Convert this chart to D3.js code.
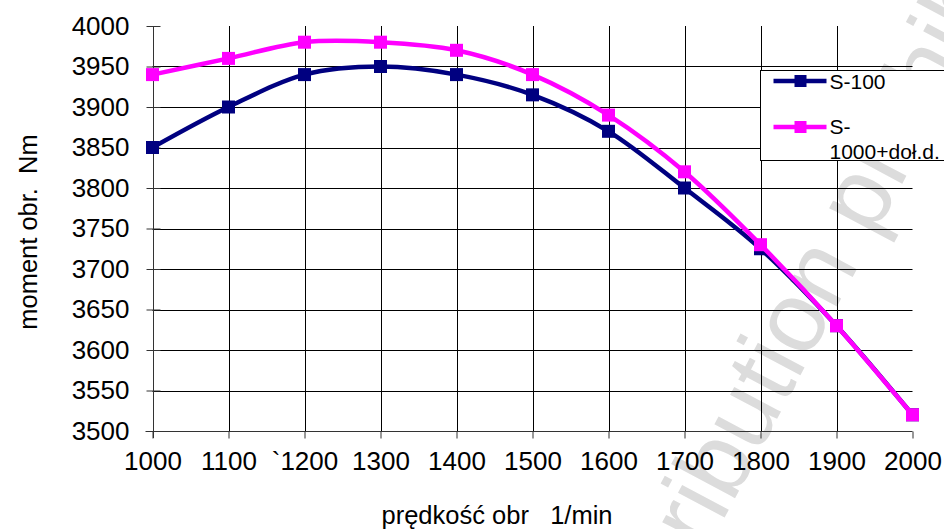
<!DOCTYPE html>
<html>
<head>
<meta charset="utf-8">
<script src="https://cdn.jsdelivr.net/npm/d3@7"></script>
<style>
  html, body { margin: 0; padding: 0; background: #fff; }
  svg { display: block; font-family: "Liberation Sans", Arial, sans-serif; }
</style>
</head>
<body>
<div id="chart"></div>
<script>
// dane
const speeds = [1000, 1100, 1200, 1300, 1400, 1500, 1600, 1700, 1800, 1900, 2000];
const xTickLabels = ['1000', '1100', '`1200', '1300', '1400', '1500', '1600', '1700', '1800', '1900', '2000'];
const torqueS100 = [3850, 3900, 3940, 3950, 3940, 3915, 3870, 3800, 3725, 3630, 3520];
const torqueS1000 = [3940, 3960, 3980, 3980, 3970, 3940, 3890, 3820, 3730, 3630, 3520];
const yTicks = [3500, 3550, 3600, 3650, 3700, 3750, 3800, 3850, 3900, 3950, 4000];

const series = [
    { name: 'S-100', values: torqueS100, color: '#000080' },
    { name: 'S-1000+doł.d.', values: torqueS1000, color: '#ff00ff' }
];

const width = 944;
const height = 529;
const tickFont = 26;

const svg = d3.select('#chart')
    .append('svg')
    .attr('width', width)
    .attr('height', height);

// znak wodny w tle
svg.append('text')
    .attr('transform', 'translate(625,705) rotate(-62)')
    .attr('font-size', 100)
    .attr('fill', '#dcdcdc')
    .text('Distribution prohibited');

const x = d3.scaleLinear().domain([1000, 2000]).range([152.5, 912.5]);
const y = d3.scaleLinear().domain([3500, 4000]).range([431, 26]);

// siatka pozioma
svg.append('g')
    .selectAll('line')
    .data(yTicks.filter(v => v > 3500 && v < 4000))
    .enter()
    .append('line')
    .attr('x1', x(1000)).attr('x2', x(2000))
    .attr('y1', d => Math.round(y(d)) + 0.5)
    .attr('y2', d => Math.round(y(d)) + 0.5)
    .attr('stroke', '#000')
    .attr('stroke-width', 1);

// siatka pionowa
svg.append('g')
    .selectAll('line')
    .data(speeds.filter(v => v > 1000 && v < 2000))
    .enter()
    .append('line')
    .attr('x1', d => Math.round(x(d)) + 0.5)
    .attr('x2', d => Math.round(x(d)) + 0.5)
    .attr('y1', y(4000)).attr('y2', y(3500))
    .attr('stroke', '#000')
    .attr('stroke-width', 1);

// oś Y
const yAxis = d3.axisLeft(y)
    .tickValues(yTicks)
    .tickSize(7)
    .tickPadding(17)
    .tickFormat(d3.format('d'));

const gy = svg.append('g')
    .attr('transform', `translate(${Math.round(x(1000)) + 0.5},0)`)
    .call(yAxis);
gy.select('.domain').attr('stroke', '#333').attr('d', `M0,${y(4000)}V${y(3500) + 7}`);
gy.selectAll('.tick line').attr('x2', -7).attr('x1', 7).attr('stroke', '#333');
gy.selectAll('.tick text')
    .attr('font-size', tickFont)
    .attr('font-family', '"Liberation Sans", Arial, sans-serif')
    .attr('fill', '#000');

// oś X
const xAxis = d3.axisBottom(x)
    .tickValues(speeds)
    .tickSize(7)
    .tickPadding(13)
    .tickFormat((d, i) => xTickLabels[i]);

const gx = svg.append('g')
    .attr('transform', `translate(0,${Math.round(y(3500)) + 0.5})`)
    .call(xAxis);
gx.select('.domain').attr('stroke', '#333').attr('d', `M${x(1000) - 7},0H${x(2000)}`);
gx.selectAll('.tick line').attr('stroke', '#333');
gx.selectAll('.tick text')
    .attr('font-size', tickFont)
    .attr('font-family', '"Liberation Sans", Arial, sans-serif')
    .attr('fill', '#000');

// tytuły osi
svg.append('text')
    .attr('x', 497)
    .attr('y', 524)
    .attr('text-anchor', 'middle')
    .attr('font-size', 25.5)
    .style('white-space', 'pre')
    .text('prędkość obr   1/min');

svg.append('text')
    .attr('transform', 'translate(37,232) rotate(-90)')
    .attr('text-anchor', 'middle')
    .attr('font-size', 25.5)
    .style('white-space', 'pre')
    .text('moment obr.  Nm');

// linie serii
const line = d3.line()
    .x((d, i) => x(speeds[i]))
    .y(d => y(d))
    .curve(d3.curveCatmullRom.alpha(0));

const markerSize = 13;

series.forEach(s => {
    const g = svg.append('g');
    g.append('path')
        .datum(s.values)
        .attr('d', line)
        .attr('fill', 'none')
        .attr('stroke', s.color)
        .attr('stroke-width', 4.5);
    g.selectAll('rect')
        .data(s.values)
        .enter()
        .append('rect')
        .attr('x', (d, i) => x(speeds[i]) - markerSize / 2)
        .attr('y', d => y(d) - markerSize / 2)
        .attr('width', markerSize)
        .attr('height', markerSize)
        .attr('fill', s.color);
});

// legenda
const legend = svg.append('g').attr('transform', 'translate(760.5,70.5)');
legend.append('rect')
    .attr('width', 200)
    .attr('height', 90)
    .attr('fill', '#fff')
    .attr('stroke', '#000')
    .attr('stroke-width', 1);

const legendRows = [
    { color: series[0].color, lines: ['S-100'], y: 10.5, dy: 7.5 },
    { color: series[1].color, lines: ['S-', '1000+doł.d.'], y: 56.5, dy: 6.5 }
];

legendRows.forEach(r => {
    legend.append('line')
        .attr('x1', 13).attr('x2', 66)
        .attr('y1', r.y).attr('y2', r.y)
        .attr('stroke', r.color)
        .attr('stroke-width', 4.5);
    legend.append('rect')
        .attr('x', 40 - 6).attr('y', r.y - 6)
        .attr('width', 12).attr('height', 12)
        .attr('fill', r.color);
    legend.selectAll(null)
        .data(r.lines)
        .enter()
        .append('text')
        .attr('x', 69)
        .attr('y', (d, i) => r.y + r.dy + i * 25)
        .attr('font-size', 21)
        .text(d => d);
});
</script>
</body>
</html>
